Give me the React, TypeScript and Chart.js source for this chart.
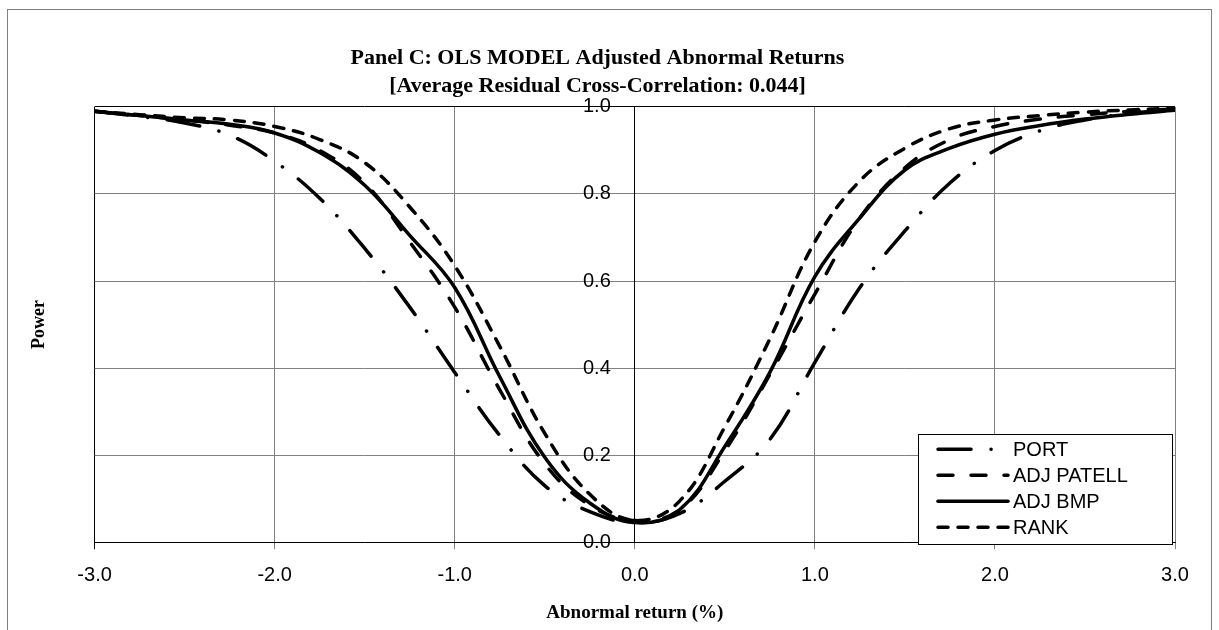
import React, { useEffect, useRef } from "react";
import { Chart, registerables } from "chart.js";

Chart.register(...registerables);

const abnormalReturn = [-3, -2.75, -2.5, -2.25, -2, -1.75, -1.5, -1.25, -1, -0.75, -0.5, -0.25, 0, 0.25, 0.5, 0.75, 1, 1.25, 1.5, 1.75, 2, 2.25, 2.5, 2.75, 3];

const port = [0.99, 0.978, 0.963, 0.935, 0.875, 0.79, 0.675, 0.54, 0.39, 0.245, 0.13, 0.07, 0.045, 0.066, 0.14, 0.236, 0.413, 0.585, 0.715, 0.825, 0.9, 0.945, 0.97, 0.985, 0.993];
const adjPatell = [0.99, 0.98, 0.97, 0.958, 0.94, 0.9, 0.825, 0.69, 0.54, 0.35, 0.18, 0.085, 0.05, 0.075, 0.21, 0.385, 0.57, 0.745, 0.86, 0.925, 0.955, 0.972, 0.982, 0.99, 0.995];
const adjBmp = [0.99, 0.98, 0.97, 0.96, 0.94, 0.895, 0.82, 0.705, 0.585, 0.38, 0.195, 0.09, 0.045, 0.075, 0.22, 0.39, 0.61, 0.745, 0.855, 0.905, 0.937, 0.957, 0.972, 0.983, 0.992];
const rank = [0.99, 0.982, 0.975, 0.97, 0.955, 0.925, 0.872, 0.77, 0.635, 0.45, 0.25, 0.11, 0.05, 0.095, 0.265, 0.467, 0.69, 0.83, 0.905, 0.95, 0.97, 0.98, 0.988, 0.993, 0.997];

const seriesLabels = ["PORT", "ADJ PATELL", "ADJ BMP", "RANK"];
const titleLines = ["Panel C: OLS MODEL Adjusted Abnormal Returns", "[Average Residual Cross-Correlation: 0.044]"];
const xTitle = "Abnormal return (%)";
const yTitle = "Power";

const dashes: number[][] = [[33, 20, 0.1, 20], [15, 18], [], [10, 10]];

const SANS = '"Liberation Sans", Arial, sans-serif';
const SERIF = '"Liberation Serif", "Times New Roman", serif';

const toPoints = (ys: number[]) => abnormalReturn.map((x, i) => ({ x, y: ys[i] }));

const outerBorder = {
  id: "outerBorder",
  beforeDraw(chart: any) {
    const ctx = chart.ctx;
    ctx.save();
    ctx.fillStyle = "#ffffff";
    ctx.fillRect(0, 0, chart.width, chart.height);
    ctx.strokeStyle = "#808080";
    ctx.lineWidth = 1;
    ctx.strokeRect(7.5, 9.5, 1204, 700);
    ctx.restore();
  },
};

const boxLegend = {
  id: "boxLegend",
  afterDraw(chart: any) {
    const ctx = chart.ctx;
    const ca = chart.chartArea;
    const w = 254;
    const h = 110;
    const x0 = ca.right - w - 3;
    const y0 = ca.bottom - h + 2;
    ctx.save();
    ctx.fillStyle = "#ffffff";
    ctx.fillRect(x0, y0, w, h);
    ctx.strokeStyle = "#000000";
    ctx.lineWidth = 1;
    ctx.strokeRect(Math.round(x0) + 0.5, Math.round(y0) + 0.5, w, h);
    chart.data.datasets.forEach((ds: any, i: number) => {
      const y = y0 + 15 + i * 26;
      ctx.beginPath();
      ctx.setLineDash(ds.borderDash || []);
      ctx.lineCap = "round";
      ctx.lineWidth = 3.5;
      ctx.strokeStyle = "#000000";
      ctx.moveTo(x0 + 20, y);
      ctx.lineTo(x0 + 90, y);
      ctx.stroke();
      ctx.setLineDash([]);
      ctx.fillStyle = "#000000";
      ctx.font = `20px ${SANS}`;
      ctx.textBaseline = "middle";
      ctx.textAlign = "left";
      ctx.fillText(ds.label, x0 + 95, y + 1);
    });
    ctx.restore();
  },
};

export default function App() {
  const ref = useRef<HTMLCanvasElement | null>(null);

  useEffect(() => {
    document.body.style.overflow = "hidden";
    if (!ref.current) return;
    const all = [port, adjPatell, adjBmp, rank];
    const chart = new Chart(ref.current, {
      type: "line",
      data: {
        datasets: all.map((ys, i) => ({
          label: seriesLabels[i],
          data: toPoints(ys),
          borderColor: "#000000",
          backgroundColor: "#000000",
          borderWidth: 3.5,
          borderDash: dashes[i],
          borderCapStyle: "round" as const,
          pointRadius: 0,
          fill: false,
          tension: 0.4,
        })),
      },
      options: {
        animation: false,
        responsive: false,
        devicePixelRatio: 1,
        layout: { padding: { left: 20, right: 44, top: 0, bottom: 5 } },
        plugins: {
          legend: { display: false },
          tooltip: { enabled: false },
          title: {
            display: true,
            text: titleLines,
            color: "#000000",
            font: { family: SERIF, size: 22, weight: "bold", lineHeight: 1.27 },
            padding: { top: 44, bottom: 7 },
          },
        },
        scales: {
          x: {
            type: "linear",
            min: -3,
            max: 3,
            ticks: {
              stepSize: 1,
              autoSkip: false,
              color: "#000000",
              font: { family: SANS, size: 20 },
              padding: 14,
              callback: (v: any) => Number(v).toFixed(1),
            },
            grid: {
              color: (c: any) => (c.tick && Math.abs(c.tick.value + 3) < 1e-9 ? "#000000" : "#808080"),
              tickLength: 7,
              lineWidth: 1,
            },
            border: { display: true, color: "#000000", width: 1 },
            title: {
              display: true,
              text: xTitle,
              color: "#000000",
              font: { family: SERIF, size: 19, weight: "bold", lineHeight: 1.2 },
              padding: { top: 0, bottom: 1 },
            },
          },
          y: {
            type: "linear",
            position: "center",
            min: 0,
            max: 1,
            ticks: {
              stepSize: 0.2,
              color: "#000000",
              font: { family: SANS, size: 20 },
              padding: 24,
              callback: (v: any) => Number(v).toFixed(1),
            },
            grid: {
              color: (c: any) => (c.tick && Math.abs(c.tick.value - 1) < 1e-9 ? "#000000" : "#808080"),
              drawTicks: false,
              lineWidth: 1,
            },
            border: { display: true, color: "#000000", width: 1 },
          },
          y2: {
            type: "linear",
            position: "left",
            min: 0,
            max: 1,
            ticks: { display: false },
            grid: { display: false, drawTicks: false },
            border: { display: false },
            title: {
              display: true,
              text: yTitle,
              color: "#000000",
              font: { family: SERIF, size: 18, weight: "bold", lineHeight: 1.2 },
              padding: { top: 9, bottom: 44 },
            },
          },
        },
      } as any,
      plugins: [outerBorder, boxLegend],
    });
    return () => chart.destroy();
  }, []);

  return (
    <div style={{ position: "fixed", left: 0, top: 0, width: 1219, height: 630 }}>
      <canvas ref={ref} width={1219} height={630} style={{ display: "block", width: 1219, height: 630 }} />
    </div>
  );
}
